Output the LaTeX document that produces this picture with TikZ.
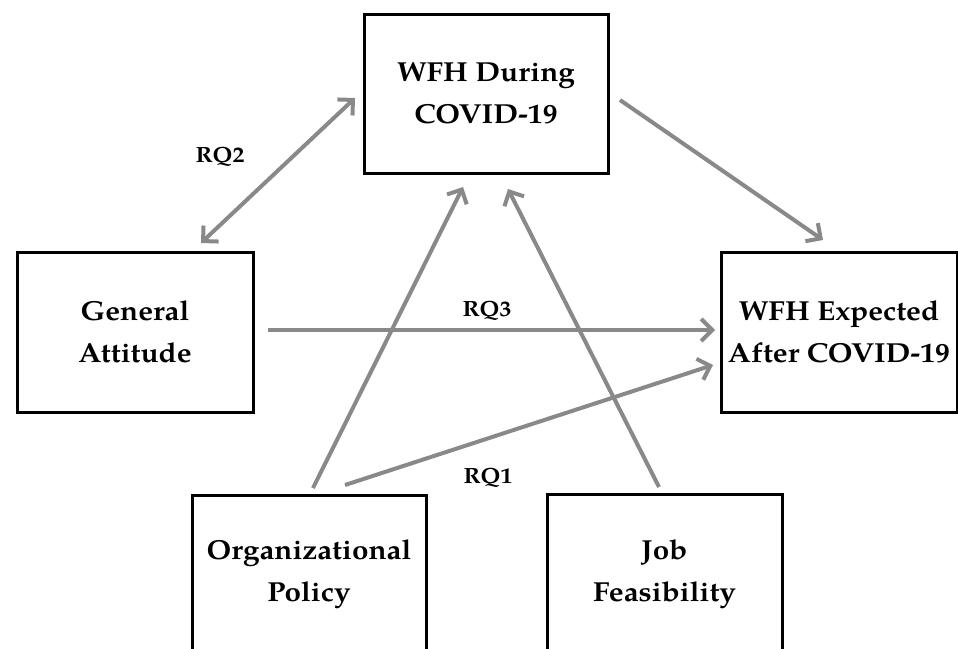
\documentclass[tikz,border=0pt]{standalone}
\usepackage{fontspec}
\setmainfont{texgyrepagella}[Extension=.otf, UprightFont=*-regular, BoldFont=*-bold, ItalicFont=*-italic, BoldItalicFont=*-bolditalic, FakeStretch=1.08]
\usetikzlibrary{arrows.meta}
\definecolor{arrowgray}{RGB}{137,137,137}
\begin{document}
\begin{tikzpicture}[x=1pt,y=-1pt,
  box/.style={draw=black, line width=3pt, fill=none, align=center, inner sep=0pt,
    font=\fontsize{27.5}{42}\selectfont\bfseries},
  conn/.style={draw=arrowgray, line width=4pt, -{Straight Barb[length=11pt,width=22pt]}},
  biconn/.style={draw=arrowgray, line width=4pt, {Straight Barb[length=11pt,width=22pt]}-{Straight Barb[length=11pt,width=22pt]}},
  rq/.style={font=\fontsize{22}{24}\selectfont\bfseries, inner sep=0pt}]
\useasboundingbox (0,0) rectangle (958,648);
\clip (0,0) rectangle (958,648);
\node[box, minimum width=244pt, minimum height=159pt] (during) at (486,93.5) {WFH During\\COVID-19};
\node[box, minimum width=236pt, minimum height=160pt] (general) at (135,332) {General\\Attitude};
\node[box, minimum width=236pt, minimum height=160pt] (expected) at (839,332) {WFH Expected\\After COVID-19};
\node[box, minimum width=234pt, minimum height=158pt] (org) at (309,574) {Organizational\\Policy};
\node[box, minimum width=235pt, minimum height=160pt] (job) at (664.5,574) {Job\\Feasibility};
% connector ends
\coordinate (gaTop) at (201,243);
\coordinate (duLeft) at (355,98);
\coordinate (duRight) at (620,100);
\coordinate (exTop) at (823,240);
\coordinate (gaRight) at (268,330);
\coordinate (exLeft) at (715,330);
\coordinate (orgTopA) at (313,488);
\coordinate (duBotA) at (463,187);
\coordinate (orgTopB) at (345,485);
\coordinate (exLeftB) at (713,365);
\coordinate (jobTop) at (659,487);
\coordinate (duBotB) at (508,189);
\draw[biconn] (gaTop) -- (duLeft);
\draw[conn] (duRight) -- (exTop);
\draw[conn] (gaRight) -- (exLeft);
\draw[conn] (orgTopA) -- (duBotA);
\draw[conn] (orgTopB) -- (exLeftB);
\draw[conn] (jobTop) -- (duBotB);
\node[rq] (rq2) at (220,157) {RQ2};
\node[rq] (rq3) at (487,311) {RQ3};
\node[rq] (rq1) at (488,478) {RQ1};
\end{tikzpicture}
\end{document}
